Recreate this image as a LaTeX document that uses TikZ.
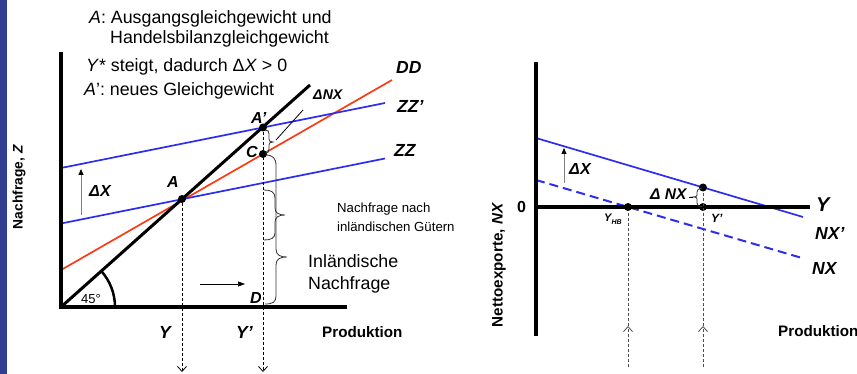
\documentclass[tikz,border=0pt]{standalone}
\usepackage{fontspec}
\setmainfont{Liberation Sans}
\usetikzlibrary{arrows.meta}
\definecolor{barblue}{RGB}{47,62,143}
\definecolor{lred}{RGB}{250,60,20}
\definecolor{lblue}{RGB}{45,45,240}
\begin{document}
\begin{tikzpicture}[x=1pt,y=-1pt,
  axis/.style={line width=3.6pt},
  dot/.style={circle,fill=black,inner sep=0pt,minimum size=8pt},
  ptlbl/.style={font=\bfseries\itshape\fontsize{16}{19}\selectfont,inner sep=0pt,anchor=base west},
  crvlbl/.style={font=\bfseries\itshape\fontsize{17.5}{21}\selectfont,inner sep=0pt,anchor=base west},
  txt/.style={font=\fontsize{17.8}{21}\selectfont,inner sep=0pt,anchor=base west},
  smalltxt/.style={font=\fontsize{13.2}{15}\selectfont,inner sep=0pt,anchor=base west},
  axlbl/.style={font=\bfseries\fontsize{15.2}{18}\selectfont,inner sep=0pt,anchor=base west},
  brace/.style={draw=black!80,line width=0.8pt},
  vdash/.style={line width=0.8pt,dash pattern=on 3pt off 2pt},
  openarrow/.style={-{Straight Barb[length=5pt,width=9pt,line width=0.8pt]}},
  shiftarrow/.style={draw=black!50,line width=0.8pt,-{Triangle[length=6pt,width=5pt,black]}}]
\useasboundingbox (0,0) rectangle (857,374);
\fill[barblue] (0,0) rectangle (7,374);

% ---------- left panel ----------
\coordinate (O) at (61,307);
\coordinate (Ytop) at (61,52);
\coordinate (Xend) at (347,307);
\coordinate (Lend) at (310,85);
\coordinate (DDs) at (61,270);
\coordinate (DDe) at (392,80);
\coordinate (ZZs) at (61,223.5);
\coordinate (ZZe) at (385,158.5);
\coordinate (ZZps) at (61,168);
\coordinate (ZZpe) at (385,103);

\draw[lred,line width=1.7pt] (DDs) -- (DDe);
\draw[lblue,line width=1.7pt] (ZZs) -- (ZZe);
\draw[lblue,line width=1.7pt] (ZZps) -- (ZZpe);
\draw[line width=3pt] (O) -- (Lend);
\draw[line width=2.5pt] (115,307) arc[start angle=0,end angle=-41.7,radius=54];
\draw[axis] (Ytop) -- (61,307) -- (Xend);

\node[dot] (A) at (182,199) {};
\node[dot] (Ap) at (263,127.5) {};
\node[dot] (C) at (263,154) {};
\coordinate (Aend) at (182,372);
\coordinate (Apend) at (263,372);
\draw[vdash,openarrow] (A) -- (Aend);
\draw[vdash,openarrow] (Ap) -- (Apend);

% braces
\draw[brace] (265,130) .. controls (268,130) and (269,131) .. (269,134) -- (269,139)
  .. controls (269,141) and (270,142) .. (273,142)
  .. controls (270,142) and (269,143) .. (269,145) -- (269,149)
  .. controls (269,152) and (268,153) .. (265,153);
\coordinate (dnxA) at (276,140);
\coordinate (dnxB) at (303,110);
\draw[line width=0.8pt] (dnxA) -- (dnxB);
\draw[brace] (265,155) .. controls (273,155) and (276,158) .. (276,166) -- (276,249)
  .. controls (276,255) and (280,257) .. (287,257)
  .. controls (280,257) and (276,259) .. (276,265) -- (276,296)
  .. controls (276,302) and (273,304) .. (265,304);
\draw[brace] (264,190) .. controls (271,190) and (275,192) .. (275,198) -- (275,208)
  .. controls (275,213) and (279,215) .. (285,215)
  .. controls (279,215) and (275,217) .. (275,222) -- (275,233)
  .. controls (275,238) and (271,240) .. (264,240);

\coordinate (dxa) at (81,215);
\coordinate (dxb) at (81,169);
\draw[shiftarrow] (dxa) -- (dxb);
\coordinate (ha) at (200,284);
\coordinate (hb) at (245,284);
\draw[line width=0.7pt,-{Triangle[length=7pt,width=5pt]}] (ha) -- (hb);

% texts left
\node[txt] (t1) at (89,24) {\textit{A}: Ausgangsgleichgewicht und};
\node[txt] (t2) at (110,44) {Handelsbilanzgleichgewicht};
\node[txt] (t3) at (86,72) {\textit{Y}* steigt, dadurch Δ\textit{X} > 0};
\node[txt] (t4) at (84,96) {\textit{A}': neues Gleichgewicht};

\node[crvlbl] (lDD) at (396,74) {DD};
\node[crvlbl] (lZZp) at (397,113) {ZZ'};
\node[crvlbl] (lZZ) at (394,157) {ZZ};
\node[ptlbl,font=\bfseries\itshape\fontsize{14}{16}\selectfont] (lDNX) at (313,100) {Δ\kern0.3pt NX};
\node[ptlbl] (lAp) at (251,124) {A'};
\node[ptlbl] (lC) at (246,158) {C};
\node[ptlbl] (lA) at (167,188) {A};
\node[ptlbl] (lD) at (250,303) {D};
\node[ptlbl] (lDX) at (89,197) {Δ\kern0.3pt X};
\node[smalltxt,font=\fontsize{13}{15}\selectfont] (l45) at (81,303) {45°};

\node[smalltxt] (nn1) at (337,213) {Nachfrage nach};
\node[smalltxt] (nn2) at (337,232) {inländischen Gütern};
\node[txt] (in1) at (308,268) {Inländische};
\node[txt] (in2) at (308,289) {Nachfrage};

\node[crvlbl] (lY) at (159,338) {Y};
\node[crvlbl] (lYp) at (236,338) {Y'};
\node[axlbl] (lProdL) at (322,337) {Produktion};
\node[font=\bfseries\fontsize{13.8}{16}\selectfont,rotate=90,inner sep=0pt] (lNZ) at (19,187) {Nachfrage, \textit{Z}};

% ---------- right panel ----------
\coordinate (O2) at (536,207);
\coordinate (Y2top) at (536,62);
\coordinate (Y2bot) at (536,336);
\coordinate (X2end) at (810,207);
\coordinate (NXps) at (536,138);
\coordinate (NXpe) at (803,217);
\coordinate (NXs) at (536,180);
\coordinate (NXe) at (802,258);

\draw[lblue,line width=1.7pt] (NXps) -- (NXpe);
\draw[lblue,line width=2pt,dash pattern=on 9pt off 5pt] (NXs) -- (NXe);
\draw[axis] (Y2top) -- (Y2bot);
\draw[axis] (O2) -- (X2end);

\node[dot] (YHB) at (628,207) {};
\node[dot] (P1) at (703,187.5) {};
\node[dot] (P0) at (703,207) {};

\coordinate (g1b) at (628,367);
\coordinate (g1m) at (628,326);
\coordinate (g2b) at (703,367);
\coordinate (g2m) at (703,326);
\draw[black!70,vdash,openarrow] (g1b) -- (g1m);
\draw[black!70,vdash] (g1m) -- (YHB);
\draw[black!70,vdash,openarrow] (g2b) -- (g2m);
\draw[black!70,vdash] (g2m) -- (P1);

\draw[brace] (702,188.5) .. controls (698.5,188.5) and (697,189.5) .. (697,192) -- (697,195)
  .. controls (697,196.5) and (696,197) .. (693,197)
  .. controls (696,197) and (697,197.5) .. (697,199) -- (697,203)
  .. controls (697,205.5) and (698.5,206.5) .. (702,206.5);
\coordinate (bd1) at (689,197);
\coordinate (bd2) at (693,197);
\draw[line width=0.8pt] (bd1) -- (bd2);

\coordinate (dx2a) at (564,183);
\coordinate (dx2b) at (564,148);
\draw[shiftarrow] (dx2a) -- (dx2b);

\node[ptlbl,font=\bfseries\itshape\fontsize{16}{18}\selectfont] (rDX) at (569,175) {Δ\kern0.3pt X};
\node[ptlbl,font=\bfseries\itshape\fontsize{15.5}{18}\selectfont] (rDNX) at (650,200) {Δ NX};
\node[axlbl,font=\bfseries\fontsize{16}{18}\selectfont] (r0) at (517,213) {0};
\node[crvlbl,font=\bfseries\itshape\fontsize{20}{22}\selectfont] (rY) at (816,212) {Y};
\node[crvlbl] (rNXp) at (815,240) {NX'};
\node[crvlbl] (rNX) at (812,275) {NX};
\node[ptlbl,font=\bfseries\itshape\fontsize{11}{13}\selectfont] (rYHB) at (604,222) {Y\raisebox{-2.5pt}{\fontsize{7}{8}\selectfont HB}};
\node[ptlbl,font=\bfseries\itshape\fontsize{12}{13}\selectfont] (rYp) at (711,223) {Y'};
\node[axlbl] (rProd) at (778,336) {Produktion};
\node[font=\bfseries\fontsize{15.2}{18}\selectfont,rotate=90,inner sep=0pt] (rNett) at (499,265) {Nettoexporte, \textit{NX}};
\end{tikzpicture}
\end{document}
